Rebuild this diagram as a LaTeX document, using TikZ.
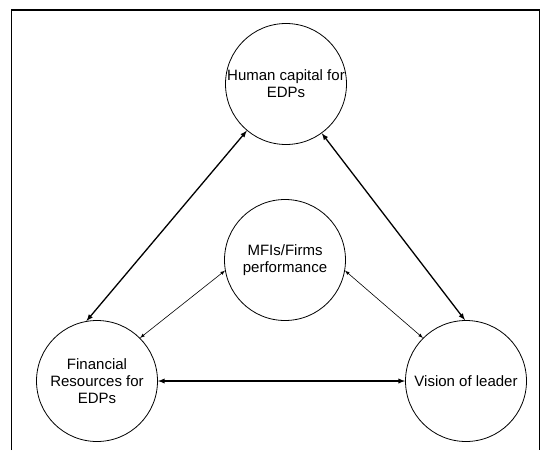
\documentclass[tikz,border=0pt]{standalone}
\usepackage{fontspec}
\setmainfont{Liberation Sans}
\usepackage{tikz}
\usetikzlibrary{arrows}
\usetikzlibrary{arrows.meta}
\usetikzlibrary{positioning}
\tikzset{>=latex}
\tikzstyle{fac} = [circle, draw = black, line width = 0.8pt, minimum size = 121pt, inner sep = 0, align = center, font = \fontsize{15}{17}\selectfont]
\tikzstyle{link} = [latex-latex, draw = black, line width = 1.3pt]
\tikzstyle{thin} = [latex-latex, draw = black, line width = 0.6pt]

\begin{document}
\begin{tikzpicture}[x = 1pt, y = -1pt]
\useasboundingbox (0, 0) rectangle (545, 450);
\draw [line width = 1.5pt] (11.5, 450) -- (11.5, 10) -- (539.5, 10) -- (539.5, 450);
\node [fac] (H) at (286, 84) {Human capital for\\EDPs};
\node [fac] (M) at (285, 260) {MFIs/Firms\\performance};
\node [fac] (F) at (97, 381) {Financial\\Resources for\\EDPs};
\node [fac] (V) at (466, 381) {Vision of leader};
\draw [link] (H.-130) to (F.100);
\draw [link] (H.-54) to (V.91);
\draw [link] (F.east) to (V.west);
\draw [thin] (M.190) to (F.45);
\draw [thin] (M.-10) to (V.135);
\end{tikzpicture}
\end{document}
